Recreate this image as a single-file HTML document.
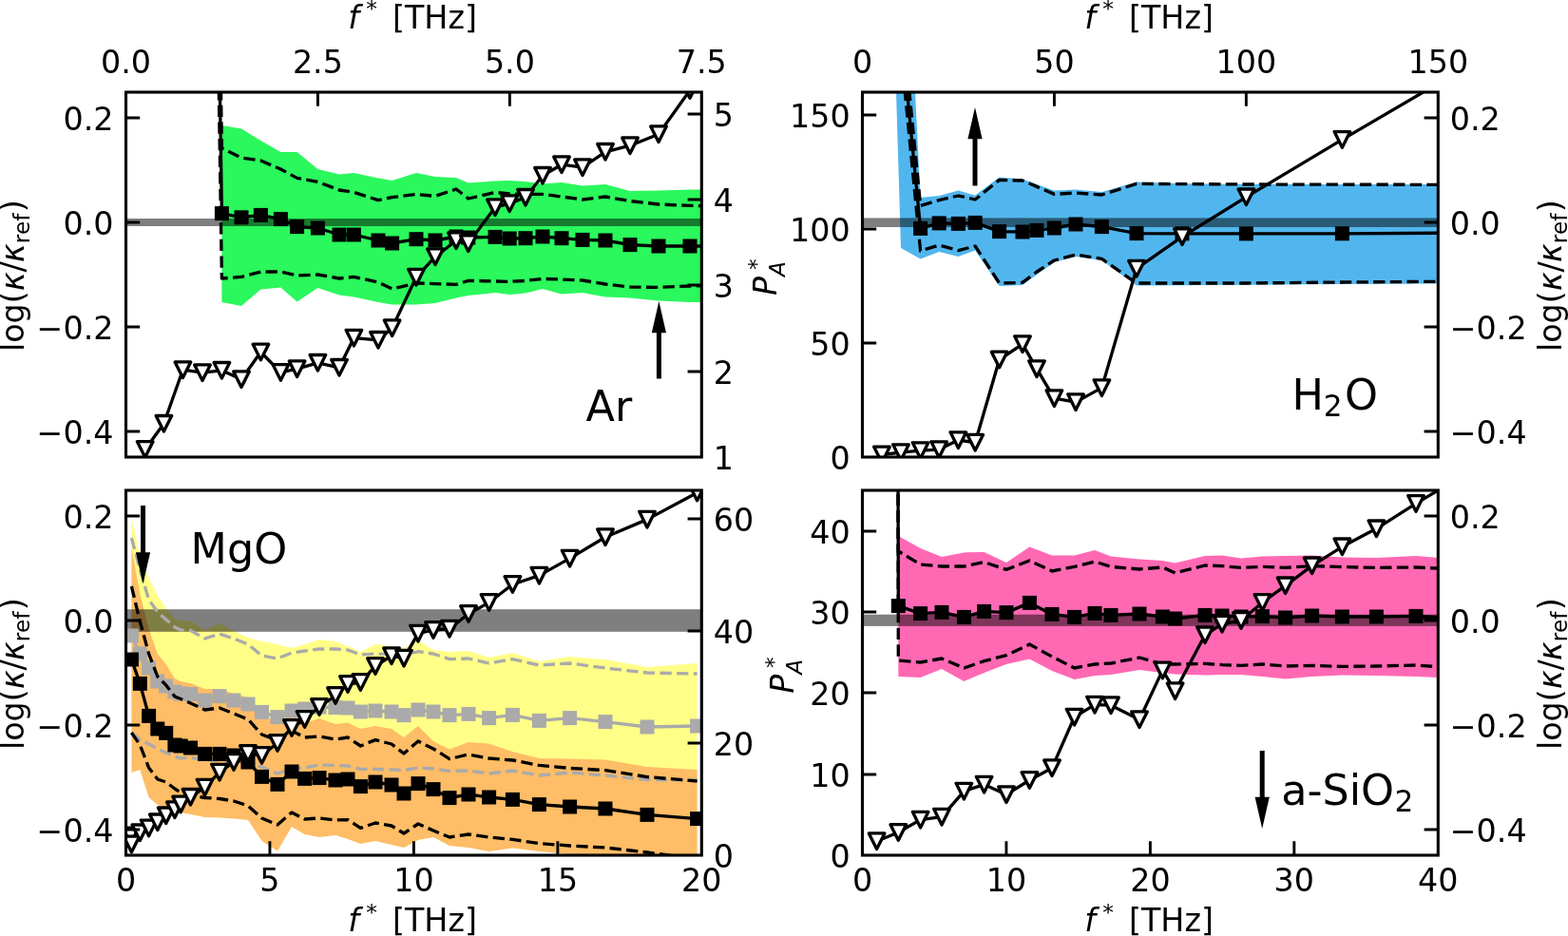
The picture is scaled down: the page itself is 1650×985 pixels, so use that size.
<!DOCTYPE html>
<html lang="en"><head><meta charset="utf-8"><title>Figure</title>
<style>
html,body{margin:0;padding:0;background:#fff;}
body{width:1650px;height:985px;overflow:hidden;}
svg{display:block;}
text{font-family:"DejaVu Sans","Liberation Sans",sans-serif;font-size:33.33px;fill:#000;}
.it{font-style:italic;}
.big{font-size:44.44px;}
.sub{font-size:23.33px;}
.bsub{font-size:31.11px;}
</style></head><body>
<svg width="1650" height="985" viewBox="0 0 1650 985">
<rect width="1650" height="985" fill="#fff"/>
<defs>
<clipPath id="ca"><rect x="132.5" y="97" width="605.8" height="384"/></clipPath>
<clipPath id="cb"><rect x="907.5" y="97" width="605.8" height="384"/></clipPath>
<clipPath id="cc"><rect x="132.5" y="516" width="605.8" height="384"/></clipPath>
<clipPath id="cd"><rect x="907.5" y="516" width="605.8" height="384"/></clipPath>
</defs>
<g clip-path="url(#ca)">
<polygon points="233.4,132.0 254.0,135.6 274.4,148.0 295.4,160.0 312.6,160.0 334.4,178.0 357.0,183.6 372.4,182.0 398.0,187.6 412.6,190.0 438.0,182.0 458.0,186.0 480.0,187.0 492.8,192.4 521.0,190.6 536.2,190.0 553.0,191.0 571.0,193.6 591.0,192.0 613.0,195.4 637.0,194.0 663.0,201.0 693.0,200.4 726.0,199.6 762.0,199.6 762.0,318.0 726.0,318.0 693.0,316.6 663.0,313.4 637.0,312.6 613.0,308.0 591.0,309.4 571.0,304.0 553.0,308.6 536.2,310.0 521.0,308.0 492.8,311.0 480.0,313.6 458.0,319.0 438.0,320.6 412.6,320.6 398.0,318.0 372.4,312.6 357.0,310.6 334.4,303.0 312.6,317.4 295.4,302.6 274.4,304.6 254.0,322.0 233.4,318.0" fill="#2af85c"/><rect x="132.5" y="230" width="605.8" height="8" fill="#000" fill-opacity="0.5"/><polyline points="232.2,75.5 233.4,156.0 254.0,166.0 274.4,169.0 295.4,178.0 312.6,187.4 334.4,191.4 357.0,200.0 372.4,202.4 398.0,210.6 412.6,207.6 438.0,204.4 458.0,206.4 480.0,199.0 492.8,209.0 521.0,202.4 536.2,204.0 553.0,204.4 571.0,204.4 591.0,207.0 613.0,210.0 637.0,207.0 663.0,211.6 693.0,215.0 726.0,216.4 762.0,217.0" fill="none" stroke="#000" stroke-width="3.33" stroke-linejoin="round" stroke-dasharray="12.3 5.33"/><polyline points="230.0,75.5 233.4,293.0 254.0,291.4 274.4,286.0 295.4,286.0 312.6,290.0 334.4,289.0 357.0,293.0 372.4,291.4 398.0,297.0 412.6,304.0 438.0,298.0 458.0,298.6 480.0,299.4 492.8,295.4 521.0,296.0 536.2,296.4 553.0,295.4 571.0,293.4 591.0,294.0 613.0,295.0 637.0,299.0 663.0,302.0 693.0,302.4 726.0,301.0 762.0,300.0" fill="none" stroke="#000" stroke-width="3.33" stroke-linejoin="round" stroke-dasharray="12.3 5.33"/><polyline points="231.1,75.5 233.4,224.6 254.0,228.8 274.4,226.4 295.4,230.6 312.6,238.6 334.4,240.0 357.0,247.0 372.4,247.0 398.0,253.0 412.6,256.0 438.0,251.7 458.0,253.0 480.0,249.0 492.8,250.0 521.0,249.4 536.2,251.0 553.0,250.7 571.0,249.0 591.0,250.7 613.0,252.4 637.0,253.0 663.0,257.6 693.0,259.0 726.0,259.0 762.0,259.0" fill="none" stroke="#000" stroke-width="3.33" stroke-linejoin="round"/><rect x="225.9" y="217.1" width="15.0" height="15.0" fill="#000"/><rect x="246.5" y="221.3" width="15.0" height="15.0" fill="#000"/><rect x="266.9" y="218.9" width="15.0" height="15.0" fill="#000"/><rect x="287.9" y="223.1" width="15.0" height="15.0" fill="#000"/><rect x="305.1" y="231.1" width="15.0" height="15.0" fill="#000"/><rect x="326.9" y="232.5" width="15.0" height="15.0" fill="#000"/><rect x="349.5" y="239.5" width="15.0" height="15.0" fill="#000"/><rect x="364.9" y="239.5" width="15.0" height="15.0" fill="#000"/><rect x="390.5" y="245.5" width="15.0" height="15.0" fill="#000"/><rect x="405.1" y="248.5" width="15.0" height="15.0" fill="#000"/><rect x="430.5" y="244.2" width="15.0" height="15.0" fill="#000"/><rect x="450.5" y="245.5" width="15.0" height="15.0" fill="#000"/><rect x="472.5" y="241.5" width="15.0" height="15.0" fill="#000"/><rect x="485.3" y="242.5" width="15.0" height="15.0" fill="#000"/><rect x="513.5" y="241.9" width="15.0" height="15.0" fill="#000"/><rect x="528.7" y="243.5" width="15.0" height="15.0" fill="#000"/><rect x="545.5" y="243.2" width="15.0" height="15.0" fill="#000"/><rect x="563.5" y="241.5" width="15.0" height="15.0" fill="#000"/><rect x="583.5" y="243.2" width="15.0" height="15.0" fill="#000"/><rect x="605.5" y="244.9" width="15.0" height="15.0" fill="#000"/><rect x="629.5" y="245.5" width="15.0" height="15.0" fill="#000"/><rect x="655.5" y="250.1" width="15.0" height="15.0" fill="#000"/><rect x="685.5" y="251.5" width="15.0" height="15.0" fill="#000"/><rect x="718.5" y="251.5" width="15.0" height="15.0" fill="#000"/><rect x="754.5" y="251.5" width="15.0" height="15.0" fill="#000"/><polyline points="152.7,473.0 172.4,445.8 192.4,389.2 213.0,392.2 233.4,389.8 254.0,399.2 274.4,370.5 295.4,391.9 312.6,388.2 334.4,381.8 357.0,386.8 372.4,355.6 398.0,357.8 412.6,345.2 438.0,291.6 458.0,270.2 480.0,253.2 492.8,256.2 521.0,218.2 536.2,214.2 553.0,207.8 571.0,184.8 591.0,173.2 613.0,176.2 637.0,159.8 663.0,153.2 693.0,141.2 726.0,95.0 762.0,45.0" fill="none" stroke="#000" stroke-width="3.33" stroke-linejoin="round"/><polygon points="144.4,464.7 161.0,464.7 152.7,481.3" fill="#fff" stroke="#000" stroke-width="3.33" stroke-linejoin="round"/><polygon points="164.1,437.5 180.7,437.5 172.4,454.1" fill="#fff" stroke="#000" stroke-width="3.33" stroke-linejoin="round"/><polygon points="184.1,380.9 200.7,380.9 192.4,397.5" fill="#fff" stroke="#000" stroke-width="3.33" stroke-linejoin="round"/><polygon points="204.7,383.9 221.3,383.9 213.0,400.5" fill="#fff" stroke="#000" stroke-width="3.33" stroke-linejoin="round"/><polygon points="225.1,381.5 241.7,381.5 233.4,398.1" fill="#fff" stroke="#000" stroke-width="3.33" stroke-linejoin="round"/><polygon points="245.7,390.9 262.3,390.9 254.0,407.5" fill="#fff" stroke="#000" stroke-width="3.33" stroke-linejoin="round"/><polygon points="266.1,362.2 282.7,362.2 274.4,378.8" fill="#fff" stroke="#000" stroke-width="3.33" stroke-linejoin="round"/><polygon points="287.1,383.6 303.7,383.6 295.4,400.2" fill="#fff" stroke="#000" stroke-width="3.33" stroke-linejoin="round"/><polygon points="304.3,379.9 320.9,379.9 312.6,396.5" fill="#fff" stroke="#000" stroke-width="3.33" stroke-linejoin="round"/><polygon points="326.1,373.5 342.7,373.5 334.4,390.1" fill="#fff" stroke="#000" stroke-width="3.33" stroke-linejoin="round"/><polygon points="348.7,378.5 365.3,378.5 357.0,395.1" fill="#fff" stroke="#000" stroke-width="3.33" stroke-linejoin="round"/><polygon points="364.1,347.3 380.7,347.3 372.4,363.9" fill="#fff" stroke="#000" stroke-width="3.33" stroke-linejoin="round"/><polygon points="389.7,349.5 406.3,349.5 398.0,366.1" fill="#fff" stroke="#000" stroke-width="3.33" stroke-linejoin="round"/><polygon points="404.3,336.9 420.9,336.9 412.6,353.5" fill="#fff" stroke="#000" stroke-width="3.33" stroke-linejoin="round"/><polygon points="429.7,283.3 446.3,283.3 438.0,299.9" fill="#fff" stroke="#000" stroke-width="3.33" stroke-linejoin="round"/><polygon points="449.7,261.9 466.3,261.9 458.0,278.5" fill="#fff" stroke="#000" stroke-width="3.33" stroke-linejoin="round"/><polygon points="471.7,244.9 488.3,244.9 480.0,261.5" fill="#fff" stroke="#000" stroke-width="3.33" stroke-linejoin="round"/><polygon points="484.5,247.9 501.1,247.9 492.8,264.5" fill="#fff" stroke="#000" stroke-width="3.33" stroke-linejoin="round"/><polygon points="512.7,209.9 529.3,209.9 521.0,226.5" fill="#fff" stroke="#000" stroke-width="3.33" stroke-linejoin="round"/><polygon points="527.9,205.9 544.5,205.9 536.2,222.5" fill="#fff" stroke="#000" stroke-width="3.33" stroke-linejoin="round"/><polygon points="544.7,199.5 561.3,199.5 553.0,216.1" fill="#fff" stroke="#000" stroke-width="3.33" stroke-linejoin="round"/><polygon points="562.7,176.5 579.3,176.5 571.0,193.1" fill="#fff" stroke="#000" stroke-width="3.33" stroke-linejoin="round"/><polygon points="582.7,164.9 599.3,164.9 591.0,181.5" fill="#fff" stroke="#000" stroke-width="3.33" stroke-linejoin="round"/><polygon points="604.7,167.9 621.3,167.9 613.0,184.5" fill="#fff" stroke="#000" stroke-width="3.33" stroke-linejoin="round"/><polygon points="628.7,151.5 645.3,151.5 637.0,168.1" fill="#fff" stroke="#000" stroke-width="3.33" stroke-linejoin="round"/><polygon points="654.7,144.9 671.3,144.9 663.0,161.5" fill="#fff" stroke="#000" stroke-width="3.33" stroke-linejoin="round"/><polygon points="684.7,132.9 701.3,132.9 693.0,149.5" fill="#fff" stroke="#000" stroke-width="3.33" stroke-linejoin="round"/><polygon points="717.7,86.7 734.3,86.7 726.0,103.3" fill="#fff" stroke="#000" stroke-width="3.33" stroke-linejoin="round"/><polygon points="753.7,36.7 770.3,36.7 762.0,53.3" fill="#fff" stroke="#000" stroke-width="3.33" stroke-linejoin="round"/><polygon points="690.9,398.6 695.9,398.6 695.9,350.3 701.0,350.3 693.4,317.0 685.8,350.3 690.9,350.3" fill="#000"/>
</g>
<path d="M132.5 124.00h14.7M132.5 234.00h14.7M132.5 344.00h14.7M132.5 454.00h14.7M738.3 391.00h-14.7M738.3 300.00h-14.7M738.3 210.00h-14.7M738.3 120.00h-14.7M334.43 97v14.7M536.37 97v14.7" stroke="#000" stroke-width="2.9" fill="none"/>
<rect x="132.5" y="97" width="605.8" height="384" fill="none" stroke="#000" stroke-width="3.1"/>

<g clip-path="url(#cb)">
<polygon points="943.0,97.0 963.0,97.0 968.6,208.0 988.2,206.0 1008.4,200.6 1026.2,205.4 1051.6,186.6 1076.0,188.6 1091.0,194.0 1109.4,200.6 1132.0,199.4 1159.4,202.0 1196.0,191.6 1244.0,193.2 1311.4,193.7 1412.4,193.9 1560.0,194.1 1560.0,298.2 1412.4,299.0 1311.4,299.8 1244.0,300.2 1196.0,300.6 1159.4,274.0 1132.0,270.0 1109.4,276.0 1091.0,289.0 1076.0,300.0 1051.6,301.0 1026.2,263.6 1008.4,270.0 988.2,265.0 968.6,272.4 948.0,261.0" fill="#52b6ee"/><rect x="907.5" y="229.4" width="605.8" height="9.599999999999994" fill="#000" fill-opacity="0.5"/><polyline points="954.9,76.3 968.6,216.4 988.2,210.6 1008.4,206.0 1026.2,210.0 1051.6,189.4 1076.0,190.0 1091.0,196.4 1109.4,204.4 1132.0,203.0 1159.4,205.0 1196.0,193.4 1244.0,193.6 1311.4,194.0 1412.4,194.2 1560.0,194.4" fill="none" stroke="#000" stroke-width="3.33" stroke-linejoin="round" stroke-dasharray="12.3 5.33"/><polyline points="950.3,76.3 968.6,264.0 988.2,258.0 1008.4,263.6 1026.2,259.0 1051.6,298.0 1076.0,297.4 1091.0,286.0 1109.4,274.0 1132.0,268.0 1159.4,272.4 1196.0,298.0 1244.0,298.0 1311.4,298.0 1412.4,297.0 1560.0,296.0" fill="none" stroke="#000" stroke-width="3.33" stroke-linejoin="round" stroke-dasharray="12.3 5.33"/><polyline points="952.6,76.3 968.6,240.4 988.2,234.9 1008.4,235.4 1026.2,234.4 1051.6,243.6 1076.0,244.0 1091.0,242.4 1109.4,240.0 1132.0,236.0 1159.4,238.6 1196.0,245.6 1244.0,245.8 1311.4,245.9 1412.4,245.8 1560.0,245.0" fill="none" stroke="#000" stroke-width="3.33" stroke-linejoin="round"/><rect x="961.1" y="232.9" width="15.0" height="15.0" fill="#000"/><rect x="980.7" y="227.4" width="15.0" height="15.0" fill="#000"/><rect x="1000.9" y="227.9" width="15.0" height="15.0" fill="#000"/><rect x="1018.7" y="226.9" width="15.0" height="15.0" fill="#000"/><rect x="1044.1" y="236.1" width="15.0" height="15.0" fill="#000"/><rect x="1068.5" y="236.5" width="15.0" height="15.0" fill="#000"/><rect x="1083.5" y="234.9" width="15.0" height="15.0" fill="#000"/><rect x="1101.9" y="232.5" width="15.0" height="15.0" fill="#000"/><rect x="1124.5" y="228.5" width="15.0" height="15.0" fill="#000"/><rect x="1151.9" y="231.1" width="15.0" height="15.0" fill="#000"/><rect x="1188.5" y="238.1" width="15.0" height="15.0" fill="#000"/><rect x="1236.5" y="238.3" width="15.0" height="15.0" fill="#000"/><rect x="1303.9" y="238.4" width="15.0" height="15.0" fill="#000"/><rect x="1404.9" y="238.3" width="15.0" height="15.0" fill="#000"/><rect x="1552.5" y="237.5" width="15.0" height="15.0" fill="#000"/><polyline points="928.0,478.5 948.0,476.1 968.6,474.1 988.2,473.1 1008.4,463.1 1026.2,465.7 1051.6,378.5 1076.0,362.1 1091.0,388.1 1109.4,419.1 1132.0,423.1 1159.4,408.1 1196.0,282.7 1244.0,249.1 1311.4,207.3 1412.4,146.9 1560.0,60.5" fill="none" stroke="#000" stroke-width="3.33" stroke-linejoin="round"/><polygon points="919.7,470.2 936.3,470.2 928.0,486.8" fill="#fff" stroke="#000" stroke-width="3.33" stroke-linejoin="round"/><polygon points="939.7,467.8 956.3,467.8 948.0,484.4" fill="#fff" stroke="#000" stroke-width="3.33" stroke-linejoin="round"/><polygon points="960.3,465.8 976.9,465.8 968.6,482.4" fill="#fff" stroke="#000" stroke-width="3.33" stroke-linejoin="round"/><polygon points="979.9,464.8 996.5,464.8 988.2,481.4" fill="#fff" stroke="#000" stroke-width="3.33" stroke-linejoin="round"/><polygon points="1000.1,454.8 1016.7,454.8 1008.4,471.4" fill="#fff" stroke="#000" stroke-width="3.33" stroke-linejoin="round"/><polygon points="1017.9,457.4 1034.5,457.4 1026.2,474.0" fill="#fff" stroke="#000" stroke-width="3.33" stroke-linejoin="round"/><polygon points="1043.3,370.2 1059.9,370.2 1051.6,386.8" fill="#fff" stroke="#000" stroke-width="3.33" stroke-linejoin="round"/><polygon points="1067.7,353.8 1084.3,353.8 1076.0,370.4" fill="#fff" stroke="#000" stroke-width="3.33" stroke-linejoin="round"/><polygon points="1082.7,379.8 1099.3,379.8 1091.0,396.4" fill="#fff" stroke="#000" stroke-width="3.33" stroke-linejoin="round"/><polygon points="1101.1,410.8 1117.7,410.8 1109.4,427.4" fill="#fff" stroke="#000" stroke-width="3.33" stroke-linejoin="round"/><polygon points="1123.7,414.8 1140.3,414.8 1132.0,431.4" fill="#fff" stroke="#000" stroke-width="3.33" stroke-linejoin="round"/><polygon points="1151.1,399.8 1167.7,399.8 1159.4,416.4" fill="#fff" stroke="#000" stroke-width="3.33" stroke-linejoin="round"/><polygon points="1187.7,274.4 1204.3,274.4 1196.0,291.0" fill="#fff" stroke="#000" stroke-width="3.33" stroke-linejoin="round"/><polygon points="1235.7,240.8 1252.3,240.8 1244.0,257.4" fill="#fff" stroke="#000" stroke-width="3.33" stroke-linejoin="round"/><polygon points="1303.1,199.0 1319.7,199.0 1311.4,215.6" fill="#fff" stroke="#000" stroke-width="3.33" stroke-linejoin="round"/><polygon points="1404.1,138.6 1420.7,138.6 1412.4,155.2" fill="#fff" stroke="#000" stroke-width="3.33" stroke-linejoin="round"/><polygon points="1551.7,52.2 1568.3,52.2 1560.0,68.8" fill="#fff" stroke="#000" stroke-width="3.33" stroke-linejoin="round"/><polygon points="1023.5,195.6 1028.5,195.6 1028.5,146.3 1033.6,146.3 1026.0,113.0 1018.4,146.3 1023.5,146.3" fill="#000"/>
</g>
<path d="M1513.3 124.00h-14.7M1513.3 234.00h-14.7M1513.3 344.00h-14.7M1513.3 454.00h-14.7M907.5 361.00h14.7M907.5 241.00h14.7M907.5 121.00h14.7M1109.43 97v14.7M1311.37 97v14.7" stroke="#000" stroke-width="2.9" fill="none"/>
<rect x="907.5" y="97" width="605.8" height="384" fill="none" stroke="#000" stroke-width="3.1"/>

<g clip-path="url(#cc)">
<polygon points="138.4,545.0 147.3,585.0 156.6,608.0 165.8,627.0 174.7,640.0 183.9,651.0 190.1,653.0 200.5,653.5 215.5,663.0 231.0,656.0 246.0,664.0 261.0,671.0 275.5,675.0 292.0,678.0 307.0,682.0 320.6,678.0 336.0,673.0 353.0,675.0 366.0,680.0 379.4,686.0 395.0,678.0 412.0,680.0 425.0,682.0 440.0,674.0 456.0,684.0 473.0,686.0 493.0,685.0 514.6,692.0 539.4,687.0 567.4,696.0 599.6,691.0 637.0,694.0 681.0,702.0 733.6,698.0 733.6,821.0 681.0,820.6 637.0,816.0 599.6,813.0 567.4,816.0 539.4,811.0 514.6,814.0 493.0,811.0 473.0,811.4 456.0,809.0 440.0,808.0 425.0,810.6 412.0,810.0 395.0,809.4 379.4,809.4 366.0,806.0 353.0,805.4 336.0,805.0 320.6,808.0 307.0,809.0 292.0,814.0 275.5,807.0 261.0,805.0 246.0,803.0 231.0,800.0 215.5,800.0 200.5,797.0 190.1,798.0 183.9,796.0 174.7,792.0 165.8,788.0 156.6,783.0 147.3,778.5 138.4,771.0" fill="#ffff88"/><polygon points="138.4,576.0 147.3,625.0 156.6,662.0 165.8,688.0 174.7,699.0 183.9,714.0 190.1,717.0 200.5,719.0 215.5,725.0 231.0,725.0 246.0,730.0 261.0,734.0 275.5,752.0 292.0,760.0 307.0,752.0 320.6,761.0 336.0,756.0 353.0,762.0 366.0,760.6 379.4,767.0 395.0,764.0 412.0,767.0 425.0,776.0 440.0,764.0 456.0,780.0 473.0,788.6 493.0,781.0 514.6,782.6 539.4,791.0 567.4,798.0 599.6,798.6 637.0,799.4 681.0,807.0 733.6,810.0 733.6,908.0 681.0,905.0 637.0,902.0 599.6,899.0 567.4,896.0 539.4,892.6 514.6,896.0 493.0,892.0 473.0,890.0 456.0,881.0 440.0,884.0 425.0,892.0 412.0,889.0 395.0,885.0 379.4,888.0 366.0,883.0 353.0,879.0 336.0,881.0 320.6,878.0 307.0,870.0 292.0,895.4 275.5,885.0 261.0,863.0 246.0,861.4 231.0,860.6 215.5,860.0 200.5,857.0 190.1,855.0 183.9,853.0 174.7,850.0 165.8,847.0 156.6,839.0 147.3,810.0 138.4,813.0" fill="#febd66"/><rect x="132.5" y="641.2" width="605.8" height="23.59999999999991" fill="#000" fill-opacity="0.5"/><polyline points="138.4,566.0 147.3,600.0 156.6,631.0 165.8,644.0 174.7,652.0 183.9,660.0 190.1,663.0 200.5,663.5 215.5,672.0 231.0,667.0 246.0,672.0 261.0,678.0 275.5,690.0 292.0,693.0 307.0,687.0 320.6,685.0 336.0,683.0 353.0,683.0 366.0,684.0 379.4,689.0 395.0,688.0 412.0,688.4 425.0,689.0 440.0,685.6 456.0,688.0 473.0,693.6 493.0,693.0 514.6,698.0 539.4,693.6 567.4,700.0 599.6,698.0 637.0,703.0 681.0,708.0 733.6,709.0" fill="none" stroke="#aaaaaa" stroke-width="3.33" stroke-linejoin="round" stroke-dasharray="12.3 5.33"/><polyline points="138.4,771.0 147.3,778.5 156.6,783.0 165.8,788.0 174.7,792.0 183.9,796.0 190.1,798.0 200.5,797.0 215.5,800.0 231.0,800.0 246.0,803.0 261.0,805.0 275.5,807.0 292.0,814.0 307.0,809.0 320.6,808.0 336.0,805.0 353.0,805.4 366.0,806.0 379.4,809.4 395.0,809.4 412.0,810.0 425.0,810.6 440.0,808.0 456.0,809.0 473.0,811.4 493.0,811.0 514.6,814.0 539.4,811.0 567.4,816.0 599.6,813.0 637.0,816.0 681.0,820.6 733.6,821.0" fill="none" stroke="#aaaaaa" stroke-width="3.33" stroke-linejoin="round" stroke-dasharray="12.3 5.33"/><polyline points="138.4,669.0 147.3,688.0 156.6,702.8 165.8,717.0 174.7,722.0 183.9,728.0 190.1,730.0 200.5,730.5 215.5,737.0 231.0,732.6 246.0,737.0 261.0,741.0 275.5,749.4 292.0,754.6 307.0,748.0 320.6,746.0 336.0,744.0 353.0,744.6 366.0,745.0 379.4,749.0 395.0,748.0 412.0,749.0 425.0,752.6 440.0,747.0 456.0,749.0 473.0,752.6 493.0,751.4 514.6,755.6 539.4,752.4 567.4,758.4 599.6,755.6 637.0,759.6 681.0,765.0 733.6,764.0" fill="none" stroke="#aaaaaa" stroke-width="3.33" stroke-linejoin="round"/><rect x="130.9" y="661.5" width="15.0" height="15.0" fill="#aaaaaa"/><rect x="139.8" y="680.5" width="15.0" height="15.0" fill="#aaaaaa"/><rect x="149.1" y="695.3" width="15.0" height="15.0" fill="#aaaaaa"/><rect x="158.3" y="709.5" width="15.0" height="15.0" fill="#aaaaaa"/><rect x="167.2" y="714.5" width="15.0" height="15.0" fill="#aaaaaa"/><rect x="176.4" y="720.5" width="15.0" height="15.0" fill="#aaaaaa"/><rect x="182.6" y="722.5" width="15.0" height="15.0" fill="#aaaaaa"/><rect x="193.0" y="723.0" width="15.0" height="15.0" fill="#aaaaaa"/><rect x="208.0" y="729.5" width="15.0" height="15.0" fill="#aaaaaa"/><rect x="223.5" y="725.1" width="15.0" height="15.0" fill="#aaaaaa"/><rect x="238.5" y="729.5" width="15.0" height="15.0" fill="#aaaaaa"/><rect x="253.5" y="733.5" width="15.0" height="15.0" fill="#aaaaaa"/><rect x="268.0" y="741.9" width="15.0" height="15.0" fill="#aaaaaa"/><rect x="284.5" y="747.1" width="15.0" height="15.0" fill="#aaaaaa"/><rect x="299.5" y="740.5" width="15.0" height="15.0" fill="#aaaaaa"/><rect x="313.1" y="738.5" width="15.0" height="15.0" fill="#aaaaaa"/><rect x="328.5" y="736.5" width="15.0" height="15.0" fill="#aaaaaa"/><rect x="345.5" y="737.1" width="15.0" height="15.0" fill="#aaaaaa"/><rect x="358.5" y="737.5" width="15.0" height="15.0" fill="#aaaaaa"/><rect x="371.9" y="741.5" width="15.0" height="15.0" fill="#aaaaaa"/><rect x="387.5" y="740.5" width="15.0" height="15.0" fill="#aaaaaa"/><rect x="404.5" y="741.5" width="15.0" height="15.0" fill="#aaaaaa"/><rect x="417.5" y="745.1" width="15.0" height="15.0" fill="#aaaaaa"/><rect x="432.5" y="739.5" width="15.0" height="15.0" fill="#aaaaaa"/><rect x="448.5" y="741.5" width="15.0" height="15.0" fill="#aaaaaa"/><rect x="465.5" y="745.1" width="15.0" height="15.0" fill="#aaaaaa"/><rect x="485.5" y="743.9" width="15.0" height="15.0" fill="#aaaaaa"/><rect x="507.1" y="748.1" width="15.0" height="15.0" fill="#aaaaaa"/><rect x="531.9" y="744.9" width="15.0" height="15.0" fill="#aaaaaa"/><rect x="559.9" y="750.9" width="15.0" height="15.0" fill="#aaaaaa"/><rect x="592.1" y="748.1" width="15.0" height="15.0" fill="#aaaaaa"/><rect x="629.5" y="752.1" width="15.0" height="15.0" fill="#aaaaaa"/><rect x="673.5" y="757.5" width="15.0" height="15.0" fill="#aaaaaa"/><rect x="726.1" y="756.5" width="15.0" height="15.0" fill="#aaaaaa"/><polyline points="138.4,617.0 147.3,654.0 156.6,688.0 165.8,712.0 174.7,721.0 183.9,733.0 190.1,735.5 200.5,740.0 215.5,747.0 231.0,745.0 246.0,751.0 261.0,757.0 275.5,773.0 292.0,779.0 307.0,769.0 320.6,776.0 336.0,775.0 353.0,778.0 366.0,776.0 379.4,785.0 395.0,778.6 412.0,783.0 425.0,793.0 440.0,780.0 456.0,788.0 473.0,798.6 493.0,794.0 514.6,798.0 539.4,800.0 567.4,805.4 599.6,808.4 637.0,810.6 681.0,817.6 733.6,822.0" fill="none" stroke="#000" stroke-width="3.33" stroke-linejoin="round" stroke-dasharray="12.3 5.33"/><polyline points="138.4,771.0 147.3,784.0 156.6,808.0 165.8,820.0 174.7,823.0 183.9,830.0 190.1,834.0 200.5,837.0 215.5,839.5 231.0,840.5 246.0,843.0 261.0,848.0 275.5,861.0 292.0,868.0 307.0,855.0 320.6,862.0 336.0,861.0 353.0,863.0 366.0,862.6 379.4,871.4 395.0,866.0 412.0,869.0 425.0,877.0 440.0,867.0 456.0,874.0 473.0,881.0 493.0,878.0 514.6,881.0 539.4,883.4 567.4,887.6 599.6,890.0 637.0,892.0 681.0,897.0 733.6,904.0" fill="none" stroke="#000" stroke-width="3.33" stroke-linejoin="round" stroke-dasharray="12.3 5.33"/><polyline points="138.4,694.0 147.3,719.4 156.6,753.4 165.8,767.0 174.7,771.4 183.9,784.0 190.1,785.0 200.5,787.0 215.5,793.4 231.0,793.4 246.0,795.0 261.0,802.0 275.5,817.4 292.0,825.4 307.0,812.0 320.6,819.4 336.0,818.6 353.0,821.0 366.0,820.0 379.4,827.6 395.0,823.0 412.0,826.0 425.0,835.0 440.0,824.6 456.0,830.6 473.0,839.6 493.0,836.0 514.6,839.0 539.4,841.4 567.4,846.6 599.6,849.0 637.0,851.0 681.0,857.4 733.6,861.6" fill="none" stroke="#000" stroke-width="3.33" stroke-linejoin="round"/><rect x="130.9" y="686.5" width="15.0" height="15.0" fill="#000"/><rect x="139.8" y="711.9" width="15.0" height="15.0" fill="#000"/><rect x="149.1" y="745.9" width="15.0" height="15.0" fill="#000"/><rect x="158.3" y="759.5" width="15.0" height="15.0" fill="#000"/><rect x="167.2" y="763.9" width="15.0" height="15.0" fill="#000"/><rect x="176.4" y="776.5" width="15.0" height="15.0" fill="#000"/><rect x="182.6" y="777.5" width="15.0" height="15.0" fill="#000"/><rect x="193.0" y="779.5" width="15.0" height="15.0" fill="#000"/><rect x="208.0" y="785.9" width="15.0" height="15.0" fill="#000"/><rect x="223.5" y="785.9" width="15.0" height="15.0" fill="#000"/><rect x="238.5" y="787.5" width="15.0" height="15.0" fill="#000"/><rect x="253.5" y="794.5" width="15.0" height="15.0" fill="#000"/><rect x="268.0" y="809.9" width="15.0" height="15.0" fill="#000"/><rect x="284.5" y="817.9" width="15.0" height="15.0" fill="#000"/><rect x="299.5" y="804.5" width="15.0" height="15.0" fill="#000"/><rect x="313.1" y="811.9" width="15.0" height="15.0" fill="#000"/><rect x="328.5" y="811.1" width="15.0" height="15.0" fill="#000"/><rect x="345.5" y="813.5" width="15.0" height="15.0" fill="#000"/><rect x="358.5" y="812.5" width="15.0" height="15.0" fill="#000"/><rect x="371.9" y="820.1" width="15.0" height="15.0" fill="#000"/><rect x="387.5" y="815.5" width="15.0" height="15.0" fill="#000"/><rect x="404.5" y="818.5" width="15.0" height="15.0" fill="#000"/><rect x="417.5" y="827.5" width="15.0" height="15.0" fill="#000"/><rect x="432.5" y="817.1" width="15.0" height="15.0" fill="#000"/><rect x="448.5" y="823.1" width="15.0" height="15.0" fill="#000"/><rect x="465.5" y="832.1" width="15.0" height="15.0" fill="#000"/><rect x="485.5" y="828.5" width="15.0" height="15.0" fill="#000"/><rect x="507.1" y="831.5" width="15.0" height="15.0" fill="#000"/><rect x="531.9" y="833.9" width="15.0" height="15.0" fill="#000"/><rect x="559.9" y="839.1" width="15.0" height="15.0" fill="#000"/><rect x="592.1" y="841.5" width="15.0" height="15.0" fill="#000"/><rect x="629.5" y="843.5" width="15.0" height="15.0" fill="#000"/><rect x="673.5" y="849.9" width="15.0" height="15.0" fill="#000"/><rect x="726.1" y="854.1" width="15.0" height="15.0" fill="#000"/><polyline points="137.5,879.5 138.4,888.5 147.3,876.3 156.6,871.4 165.8,865.3 174.7,858.3 183.9,852.2 190.1,846.5 200.5,838.8 215.5,828.6 231.0,812.6 246.0,802.0 261.0,793.0 275.5,795.0 292.0,782.0 307.0,766.0 320.6,757.0 336.0,744.0 353.0,732.0 366.0,720.0 379.4,718.0 395.0,701.0 412.0,690.2 425.0,692.6 440.0,666.6 456.0,663.0 473.0,661.6 493.0,646.0 514.6,634.0 539.4,615.0 567.4,605.6 599.6,587.6 637.0,565.2 681.0,546.6 733.6,518.5" fill="none" stroke="#000" stroke-width="3.33" stroke-linejoin="round"/><polygon points="129.2,871.2 145.8,871.2 137.5,887.8" fill="#fff" stroke="#000" stroke-width="3.33" stroke-linejoin="round"/><polygon points="130.1,880.2 146.7,880.2 138.4,896.8" fill="#fff" stroke="#000" stroke-width="3.33" stroke-linejoin="round"/><polygon points="139.0,868.0 155.6,868.0 147.3,884.6" fill="#fff" stroke="#000" stroke-width="3.33" stroke-linejoin="round"/><polygon points="148.3,863.1 164.9,863.1 156.6,879.7" fill="#fff" stroke="#000" stroke-width="3.33" stroke-linejoin="round"/><polygon points="157.5,857.0 174.1,857.0 165.8,873.6" fill="#fff" stroke="#000" stroke-width="3.33" stroke-linejoin="round"/><polygon points="166.4,850.0 183.0,850.0 174.7,866.6" fill="#fff" stroke="#000" stroke-width="3.33" stroke-linejoin="round"/><polygon points="175.6,843.9 192.2,843.9 183.9,860.5" fill="#fff" stroke="#000" stroke-width="3.33" stroke-linejoin="round"/><polygon points="181.8,838.2 198.4,838.2 190.1,854.8" fill="#fff" stroke="#000" stroke-width="3.33" stroke-linejoin="round"/><polygon points="192.2,830.5 208.8,830.5 200.5,847.1" fill="#fff" stroke="#000" stroke-width="3.33" stroke-linejoin="round"/><polygon points="207.2,820.3 223.8,820.3 215.5,836.9" fill="#fff" stroke="#000" stroke-width="3.33" stroke-linejoin="round"/><polygon points="222.7,804.3 239.3,804.3 231.0,820.9" fill="#fff" stroke="#000" stroke-width="3.33" stroke-linejoin="round"/><polygon points="237.7,793.7 254.3,793.7 246.0,810.3" fill="#fff" stroke="#000" stroke-width="3.33" stroke-linejoin="round"/><polygon points="252.7,784.7 269.3,784.7 261.0,801.3" fill="#fff" stroke="#000" stroke-width="3.33" stroke-linejoin="round"/><polygon points="267.2,786.7 283.8,786.7 275.5,803.3" fill="#fff" stroke="#000" stroke-width="3.33" stroke-linejoin="round"/><polygon points="283.7,773.7 300.3,773.7 292.0,790.3" fill="#fff" stroke="#000" stroke-width="3.33" stroke-linejoin="round"/><polygon points="298.7,757.7 315.3,757.7 307.0,774.3" fill="#fff" stroke="#000" stroke-width="3.33" stroke-linejoin="round"/><polygon points="312.3,748.7 328.9,748.7 320.6,765.3" fill="#fff" stroke="#000" stroke-width="3.33" stroke-linejoin="round"/><polygon points="327.7,735.7 344.3,735.7 336.0,752.3" fill="#fff" stroke="#000" stroke-width="3.33" stroke-linejoin="round"/><polygon points="344.7,723.7 361.3,723.7 353.0,740.3" fill="#fff" stroke="#000" stroke-width="3.33" stroke-linejoin="round"/><polygon points="357.7,711.7 374.3,711.7 366.0,728.3" fill="#fff" stroke="#000" stroke-width="3.33" stroke-linejoin="round"/><polygon points="371.1,709.7 387.7,709.7 379.4,726.3" fill="#fff" stroke="#000" stroke-width="3.33" stroke-linejoin="round"/><polygon points="386.7,692.7 403.3,692.7 395.0,709.3" fill="#fff" stroke="#000" stroke-width="3.33" stroke-linejoin="round"/><polygon points="403.7,681.9 420.3,681.9 412.0,698.5" fill="#fff" stroke="#000" stroke-width="3.33" stroke-linejoin="round"/><polygon points="416.7,684.3 433.3,684.3 425.0,700.9" fill="#fff" stroke="#000" stroke-width="3.33" stroke-linejoin="round"/><polygon points="431.7,658.3 448.3,658.3 440.0,674.9" fill="#fff" stroke="#000" stroke-width="3.33" stroke-linejoin="round"/><polygon points="447.7,654.7 464.3,654.7 456.0,671.3" fill="#fff" stroke="#000" stroke-width="3.33" stroke-linejoin="round"/><polygon points="464.7,653.3 481.3,653.3 473.0,669.9" fill="#fff" stroke="#000" stroke-width="3.33" stroke-linejoin="round"/><polygon points="484.7,637.7 501.3,637.7 493.0,654.3" fill="#fff" stroke="#000" stroke-width="3.33" stroke-linejoin="round"/><polygon points="506.3,625.7 522.9,625.7 514.6,642.3" fill="#fff" stroke="#000" stroke-width="3.33" stroke-linejoin="round"/><polygon points="531.1,606.7 547.7,606.7 539.4,623.3" fill="#fff" stroke="#000" stroke-width="3.33" stroke-linejoin="round"/><polygon points="559.1,597.3 575.7,597.3 567.4,613.9" fill="#fff" stroke="#000" stroke-width="3.33" stroke-linejoin="round"/><polygon points="591.3,579.3 607.9,579.3 599.6,595.9" fill="#fff" stroke="#000" stroke-width="3.33" stroke-linejoin="round"/><polygon points="628.7,556.9 645.3,556.9 637.0,573.5" fill="#fff" stroke="#000" stroke-width="3.33" stroke-linejoin="round"/><polygon points="672.7,538.3 689.3,538.3 681.0,554.9" fill="#fff" stroke="#000" stroke-width="3.33" stroke-linejoin="round"/><polygon points="725.3,510.2 741.9,510.2 733.6,526.8" fill="#fff" stroke="#000" stroke-width="3.33" stroke-linejoin="round"/><polygon points="148.0,532.0 153.0,532.0 153.0,581.2 158.1,581.2 150.5,614.5 142.9,581.2 148.0,581.2" fill="#000"/>
</g>
<path d="M132.5 543.00h14.7M132.5 653.00h14.7M132.5 763.00h14.7M132.5 873.00h14.7M738.3 782.00h-14.7M738.3 664.00h-14.7M738.3 546.00h-14.7M283.95 900v-14.7M435.40 900v-14.7M586.85 900v-14.7" stroke="#000" stroke-width="2.9" fill="none"/>
<rect x="132.5" y="516" width="605.8" height="384" fill="none" stroke="#000" stroke-width="3.1"/>

<g clip-path="url(#cd)">
<polygon points="945.3,564.0 968.6,577.0 991.0,586.0 1014.4,581.4 1035.6,581.0 1059.0,592.0 1083.4,575.6 1107.0,584.4 1130.6,584.4 1152.0,579.0 1169.0,585.6 1199.0,588.4 1223.4,590.0 1236.6,592.4 1268.0,585.0 1286.0,584.4 1306.0,587.6 1328.4,585.6 1352.6,585.0 1380.6,584.6 1412.4,586.4 1448.4,587.0 1490.0,585.0 1530.0,588.5 1530.0,713.5 1490.0,712.0 1448.4,711.0 1412.4,710.6 1380.6,712.0 1352.6,714.6 1328.4,712.0 1306.0,710.0 1286.0,710.0 1268.0,710.6 1236.6,709.4 1223.4,708.0 1199.0,705.0 1169.0,710.0 1152.0,711.0 1130.6,715.0 1107.0,706.0 1083.4,693.6 1059.0,699.0 1035.6,708.0 1014.4,717.0 991.0,704.0 968.6,713.0 945.3,712.0" fill="#ff69b4"/><rect x="907.5" y="646.7" width="605.8" height="12.199999999999932" fill="#000" fill-opacity="0.5"/><polyline points="945.0,484.4 945.3,580.0 968.6,594.0 991.0,596.0 1014.4,596.0 1035.6,591.6 1059.0,599.4 1083.4,590.0 1107.0,601.0 1130.6,596.4 1152.0,591.0 1169.0,596.4 1199.0,599.0 1223.4,597.0 1236.6,603.0 1268.0,595.0 1286.0,595.6 1306.0,597.4 1328.4,596.4 1352.6,597.4 1380.6,595.6 1412.4,596.6 1448.4,597.4 1490.0,597.0 1530.0,599.0" fill="none" stroke="#000" stroke-width="3.33" stroke-linejoin="round" stroke-dasharray="12.3 5.33"/><polyline points="945.0,484.4 945.3,695.0 968.6,697.0 991.0,693.0 1014.4,703.0 1035.6,695.6 1059.0,689.6 1083.4,678.0 1107.0,691.0 1130.6,703.0 1152.0,699.0 1169.0,698.0 1199.0,692.0 1223.4,699.0 1236.6,699.0 1268.0,698.4 1286.0,699.6 1306.0,700.4 1328.4,699.0 1352.6,701.0 1380.6,700.4 1412.4,701.4 1448.4,701.0 1490.0,700.0 1530.0,703.0" fill="none" stroke="#000" stroke-width="3.33" stroke-linejoin="round" stroke-dasharray="12.3 5.33"/><polyline points="945.0,484.4 945.3,637.6 968.6,645.6 991.0,644.4 1014.4,649.4 1035.6,643.4 1059.0,644.6 1083.4,634.4 1107.0,646.4 1130.6,649.4 1152.0,645.4 1169.0,647.4 1199.0,646.0 1223.4,649.0 1236.6,651.0 1268.0,647.4 1286.0,648.0 1306.0,649.0 1328.4,648.6 1352.6,650.0 1380.6,648.0 1412.4,649.0 1448.4,649.0 1490.0,648.4 1530.0,650.0" fill="none" stroke="#000" stroke-width="3.33" stroke-linejoin="round"/><polyline points="1489.6,648.4 1513.3,652.3" fill="none" stroke="#000" stroke-width="3.33" stroke-linejoin="round"/><rect x="937.8" y="630.1" width="15.0" height="15.0" fill="#000"/><rect x="961.1" y="638.1" width="15.0" height="15.0" fill="#000"/><rect x="983.5" y="636.9" width="15.0" height="15.0" fill="#000"/><rect x="1006.9" y="641.9" width="15.0" height="15.0" fill="#000"/><rect x="1028.1" y="635.9" width="15.0" height="15.0" fill="#000"/><rect x="1051.5" y="637.1" width="15.0" height="15.0" fill="#000"/><rect x="1075.9" y="626.9" width="15.0" height="15.0" fill="#000"/><rect x="1099.5" y="638.9" width="15.0" height="15.0" fill="#000"/><rect x="1123.1" y="641.9" width="15.0" height="15.0" fill="#000"/><rect x="1144.5" y="637.9" width="15.0" height="15.0" fill="#000"/><rect x="1161.5" y="639.9" width="15.0" height="15.0" fill="#000"/><rect x="1191.5" y="638.5" width="15.0" height="15.0" fill="#000"/><rect x="1215.9" y="641.5" width="15.0" height="15.0" fill="#000"/><rect x="1229.1" y="643.5" width="15.0" height="15.0" fill="#000"/><rect x="1260.5" y="639.9" width="15.0" height="15.0" fill="#000"/><rect x="1278.5" y="640.5" width="15.0" height="15.0" fill="#000"/><rect x="1298.5" y="641.5" width="15.0" height="15.0" fill="#000"/><rect x="1320.9" y="641.1" width="15.0" height="15.0" fill="#000"/><rect x="1345.1" y="642.5" width="15.0" height="15.0" fill="#000"/><rect x="1373.1" y="640.5" width="15.0" height="15.0" fill="#000"/><rect x="1404.9" y="641.5" width="15.0" height="15.0" fill="#000"/><rect x="1440.9" y="641.5" width="15.0" height="15.0" fill="#000"/><rect x="1482.5" y="640.9" width="15.0" height="15.0" fill="#000"/><rect x="1522.5" y="642.5" width="15.0" height="15.0" fill="#000"/><polyline points="922.6,885.2 945.3,876.0 968.6,862.6 991.0,859.6 1014.4,832.6 1035.6,825.6 1059.0,836.2 1083.4,821.0 1107.0,808.2 1130.6,754.6 1152.0,741.6 1169.0,742.2 1199.0,757.2 1223.4,705.4 1236.6,727.2 1268.0,668.3 1286.0,656.7 1306.0,653.0 1328.4,633.9 1352.6,616.3 1380.6,595.3 1412.4,575.3 1448.4,556.3 1490.0,529.9 1530.0,506.0" fill="none" stroke="#000" stroke-width="3.33" stroke-linejoin="round"/><polygon points="914.3,876.9 930.9,876.9 922.6,893.5" fill="#fff" stroke="#000" stroke-width="3.33" stroke-linejoin="round"/><polygon points="937.0,867.7 953.6,867.7 945.3,884.3" fill="#fff" stroke="#000" stroke-width="3.33" stroke-linejoin="round"/><polygon points="960.3,854.3 976.9,854.3 968.6,870.9" fill="#fff" stroke="#000" stroke-width="3.33" stroke-linejoin="round"/><polygon points="982.7,851.3 999.3,851.3 991.0,867.9" fill="#fff" stroke="#000" stroke-width="3.33" stroke-linejoin="round"/><polygon points="1006.1,824.3 1022.7,824.3 1014.4,840.9" fill="#fff" stroke="#000" stroke-width="3.33" stroke-linejoin="round"/><polygon points="1027.3,817.3 1043.9,817.3 1035.6,833.9" fill="#fff" stroke="#000" stroke-width="3.33" stroke-linejoin="round"/><polygon points="1050.7,827.9 1067.3,827.9 1059.0,844.5" fill="#fff" stroke="#000" stroke-width="3.33" stroke-linejoin="round"/><polygon points="1075.1,812.7 1091.7,812.7 1083.4,829.3" fill="#fff" stroke="#000" stroke-width="3.33" stroke-linejoin="round"/><polygon points="1098.7,799.9 1115.3,799.9 1107.0,816.5" fill="#fff" stroke="#000" stroke-width="3.33" stroke-linejoin="round"/><polygon points="1122.3,746.3 1138.9,746.3 1130.6,762.9" fill="#fff" stroke="#000" stroke-width="3.33" stroke-linejoin="round"/><polygon points="1143.7,733.3 1160.3,733.3 1152.0,749.9" fill="#fff" stroke="#000" stroke-width="3.33" stroke-linejoin="round"/><polygon points="1160.7,733.9 1177.3,733.9 1169.0,750.5" fill="#fff" stroke="#000" stroke-width="3.33" stroke-linejoin="round"/><polygon points="1190.7,748.9 1207.3,748.9 1199.0,765.5" fill="#fff" stroke="#000" stroke-width="3.33" stroke-linejoin="round"/><polygon points="1215.1,697.1 1231.7,697.1 1223.4,713.7" fill="#fff" stroke="#000" stroke-width="3.33" stroke-linejoin="round"/><polygon points="1228.3,718.9 1244.9,718.9 1236.6,735.5" fill="#fff" stroke="#000" stroke-width="3.33" stroke-linejoin="round"/><polygon points="1259.7,660.0 1276.3,660.0 1268.0,676.6" fill="#fff" stroke="#000" stroke-width="3.33" stroke-linejoin="round"/><polygon points="1277.7,648.4 1294.3,648.4 1286.0,665.0" fill="#fff" stroke="#000" stroke-width="3.33" stroke-linejoin="round"/><polygon points="1297.7,644.7 1314.3,644.7 1306.0,661.3" fill="#fff" stroke="#000" stroke-width="3.33" stroke-linejoin="round"/><polygon points="1320.1,625.6 1336.7,625.6 1328.4,642.2" fill="#fff" stroke="#000" stroke-width="3.33" stroke-linejoin="round"/><polygon points="1344.3,608.0 1360.9,608.0 1352.6,624.6" fill="#fff" stroke="#000" stroke-width="3.33" stroke-linejoin="round"/><polygon points="1372.3,587.0 1388.9,587.0 1380.6,603.6" fill="#fff" stroke="#000" stroke-width="3.33" stroke-linejoin="round"/><polygon points="1404.1,567.0 1420.7,567.0 1412.4,583.6" fill="#fff" stroke="#000" stroke-width="3.33" stroke-linejoin="round"/><polygon points="1440.1,548.0 1456.7,548.0 1448.4,564.6" fill="#fff" stroke="#000" stroke-width="3.33" stroke-linejoin="round"/><polygon points="1481.7,521.6 1498.3,521.6 1490.0,538.2" fill="#fff" stroke="#000" stroke-width="3.33" stroke-linejoin="round"/><polygon points="1521.7,497.7 1538.3,497.7 1530.0,514.3" fill="#fff" stroke="#000" stroke-width="3.33" stroke-linejoin="round"/><polygon points="1325.7,790.0 1330.7,790.0 1330.7,838.7 1335.8,838.7 1328.2,872.0 1320.6,838.7 1325.7,838.7" fill="#000"/>
</g>
<path d="M1513.3 543.00h-14.7M1513.3 653.00h-14.7M1513.3 763.00h-14.7M1513.3 873.00h-14.7M907.5 815.00h14.7M907.5 729.00h14.7M907.5 644.00h14.7M907.5 559.00h14.7M1058.95 900v-14.7M1210.40 900v-14.7M1361.85 900v-14.7" stroke="#000" stroke-width="2.9" fill="none"/>
<rect x="907.5" y="516" width="605.8" height="384" fill="none" stroke="#000" stroke-width="3.1"/>

<text x="132.5" y="77.0" text-anchor="middle">0.0</text><text x="334.4" y="77.0" text-anchor="middle">2.5</text><text x="536.4" y="77.0" text-anchor="middle">5.0</text><text x="738.3" y="77.0" text-anchor="middle">7.5</text><text x="907.5" y="77.0" text-anchor="middle">0</text><text x="1109.4" y="77.0" text-anchor="middle">50</text><text x="1311.4" y="77.0" text-anchor="middle">100</text><text x="1513.3" y="77.0" text-anchor="middle">150</text><text x="132.5" y="937.9" text-anchor="middle">0</text><text x="283.9" y="937.9" text-anchor="middle">5</text><text x="435.4" y="937.9" text-anchor="middle">10</text><text x="586.9" y="937.9" text-anchor="middle">15</text><text x="738.3" y="937.9" text-anchor="middle">20</text><text x="907.5" y="937.9" text-anchor="middle">0</text><text x="1059.0" y="937.9" text-anchor="middle">10</text><text x="1210.4" y="937.9" text-anchor="middle">20</text><text x="1361.8" y="937.9" text-anchor="middle">30</text><text x="1513.3" y="937.9" text-anchor="middle">40</text><text x="119.5" y="136.8" text-anchor="end">0.2</text><text x="1525.7" y="136.8" text-anchor="start">0.2</text><text x="119.5" y="246.8" text-anchor="end">0.0</text><text x="1525.7" y="246.8" text-anchor="start">0.0</text><text x="119.5" y="356.8" text-anchor="end">−0.2</text><text x="1525.7" y="356.8" text-anchor="start">−0.2</text><text x="119.5" y="466.8" text-anchor="end">−0.4</text><text x="1525.7" y="466.8" text-anchor="start">−0.4</text><text x="119.5" y="555.8" text-anchor="end">0.2</text><text x="1525.7" y="555.8" text-anchor="start">0.2</text><text x="119.5" y="665.8" text-anchor="end">0.0</text><text x="1525.7" y="665.8" text-anchor="start">0.0</text><text x="119.5" y="775.8" text-anchor="end">−0.2</text><text x="1525.7" y="775.8" text-anchor="start">−0.2</text><text x="119.5" y="885.8" text-anchor="end">−0.4</text><text x="1525.7" y="885.8" text-anchor="start">−0.4</text><text x="750.8" y="493.8" text-anchor="start">1</text><text x="750.8" y="403.8" text-anchor="start">2</text><text x="750.8" y="312.8" text-anchor="start">3</text><text x="750.8" y="222.8" text-anchor="start">4</text><text x="750.8" y="132.8" text-anchor="start">5</text><text x="750.8" y="912.8" text-anchor="start">0</text><text x="750.8" y="794.8" text-anchor="start">20</text><text x="750.8" y="676.8" text-anchor="start">40</text><text x="750.8" y="558.8" text-anchor="start">60</text><text x="894.7" y="493.8" text-anchor="end">0</text><text x="894.7" y="373.8" text-anchor="end">50</text><text x="894.7" y="253.8" text-anchor="end">100</text><text x="894.7" y="133.8" text-anchor="end">150</text><text x="894.7" y="912.8" text-anchor="end">0</text><text x="894.7" y="827.8" text-anchor="end">10</text><text x="894.7" y="741.8" text-anchor="end">20</text><text x="894.7" y="656.8" text-anchor="end">30</text><text x="894.7" y="571.8" text-anchor="end">40</text><text x="366.3" y="29.6" text-anchor="start" class="it">f</text><text x="385.2" y="17.0" text-anchor="start" class="sub">*</text><text x="413.0" y="29.6" text-anchor="start">[THz]</text><text x="1141.3" y="29.6" text-anchor="start" class="it">f</text><text x="1160.2" y="17.0" text-anchor="start" class="sub">*</text><text x="1188.0" y="29.6" text-anchor="start">[THz]</text><text x="366.3" y="980.4" text-anchor="start" class="it">f</text><text x="385.2" y="967.8" text-anchor="start" class="sub">*</text><text x="413.0" y="980.4" text-anchor="start">[THz]</text><text x="1141.3" y="980.4" text-anchor="start" class="it">f</text><text x="1160.2" y="967.8" text-anchor="start" class="sub">*</text><text x="1188.0" y="980.4" text-anchor="start">[THz]</text><g transform="translate(25.30,370.05) rotate(-90)"><text x="0" y="0">log(<tspan x="64.0" class="it">κ</tspan><tspan x="83.55">/</tspan><tspan x="94.15" class="it">κ</tspan><tspan x="113.9" dy="6.0" class="sub">ref</tspan><tspan x="146.75" dy="-6.0" style="font-size:33.33px">)</tspan></text></g><g transform="translate(25.30,789.05) rotate(-90)"><text x="0" y="0">log(<tspan x="64.0" class="it">κ</tspan><tspan x="83.55">/</tspan><tspan x="94.15" class="it">κ</tspan><tspan x="113.9" dy="6.0" class="sub">ref</tspan><tspan x="146.75" dy="-6.0" style="font-size:33.33px">)</tspan></text></g><g transform="translate(1643.00,370.05) rotate(-90)"><text x="0" y="0">log(<tspan x="64.0" class="it">κ</tspan><tspan x="83.55">/</tspan><tspan x="94.15" class="it">κ</tspan><tspan x="113.9" dy="6.0" class="sub">ref</tspan><tspan x="146.75" dy="-6.0" style="font-size:33.33px">)</tspan></text></g><g transform="translate(1643.00,789.05) rotate(-90)"><text x="0" y="0">log(<tspan x="64.0" class="it">κ</tspan><tspan x="83.55">/</tspan><tspan x="94.15" class="it">κ</tspan><tspan x="113.9" dy="6.0" class="sub">ref</tspan><tspan x="146.75" dy="-6.0" style="font-size:33.33px">)</tspan></text></g><g transform="translate(816.90,310.95) rotate(-90)"><text x="0" y="0"><tspan class="it">P</tspan><tspan x="20.07" dy="9.3" class="sub it">A</tspan><tspan x="26.84" dy="-22.18" class="sub">*</tspan></text></g><g transform="translate(834.80,729.85) rotate(-90)"><text x="0" y="0"><tspan class="it">P</tspan><tspan x="20.07" dy="9.3" class="sub it">A</tspan><tspan x="26.84" dy="-22.18" class="sub">*</tspan></text></g><text x="616.6" y="442.6" text-anchor="start" class="big">Ar</text><text x="1359.6" y="430.6" class="big">H<tspan x="1392.8" dy="7.3" class="bsub">2</tspan><tspan x="1414.9" dy="-7.3" class="big">O</tspan></text><text x="200.6" y="592.5" text-anchor="start" class="big">MgO</text><text x="1348.2" y="846.8" class="big">a-SiO<tspan x="1467.4" dy="7.0" class="bsub">2</tspan></text>
</svg></body></html>
